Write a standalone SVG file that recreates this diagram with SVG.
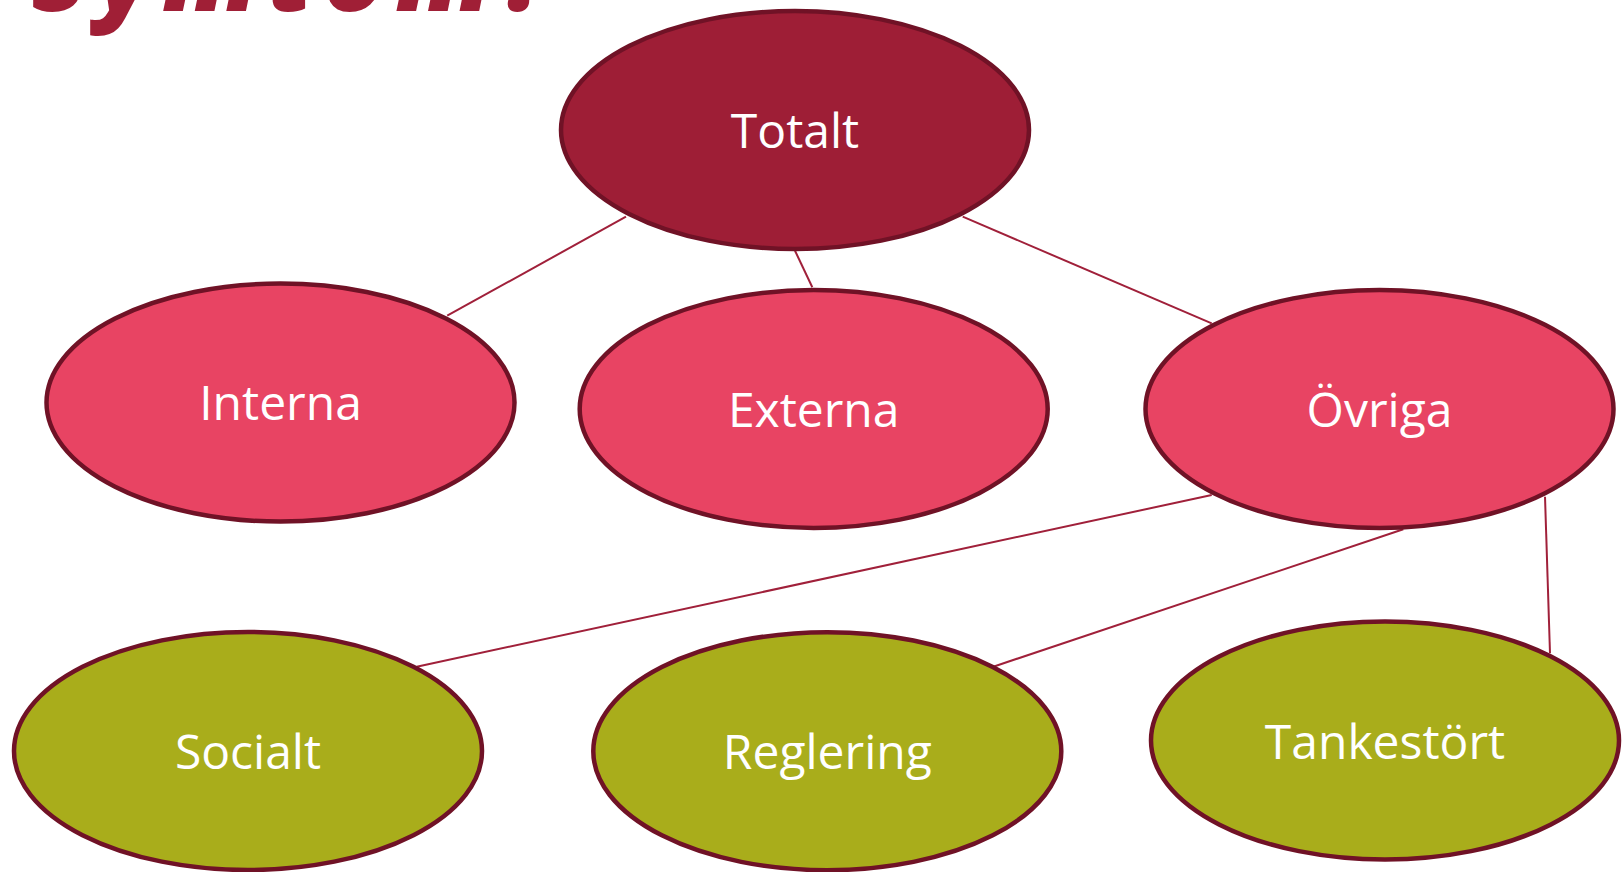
<svg xmlns="http://www.w3.org/2000/svg" width="1623" height="872" viewBox="0 0 1623 872">
<style>
.bg{fill:#ffffff}
.title{font-family:"Open Sans","Liberation Sans",sans-serif;font-weight:800;font-style:italic;font-size:104px;fill:#a01f36}
.node{stroke:#701226;stroke-width:4.5}
.top{fill:#9e1e36}
.mid{fill:#e84463}
.low{fill:#a9ad1b}
.lbl{font-family:"Open Sans","Liberation Sans",sans-serif;font-size:48px;fill:#ffffff;text-anchor:middle}
.edge{stroke:#a0203a;stroke-width:2;fill:none}
</style>
<rect class="bg" x="0" y="0" width="1623" height="872"/>
<text class="title" x="31" y="11" textLength="520" lengthAdjust="spacing">Symtom?</text>
<g id="connectors">
<line class="edge" x1="626" y1="216.7" x2="447.2" y2="315.7"/>
<line class="edge" x1="795" y1="250.7" x2="812.3" y2="287.3"/>
<line class="edge" x1="962.7" y1="216.7" x2="1211.7" y2="323.3"/>
<line class="edge" x1="1211.7" y1="495" x2="416.7" y2="666.7"/>
<line class="edge" x1="1403.3" y1="529.3" x2="993.3" y2="666.7"/>
<line class="edge" x1="1545" y1="496.7" x2="1550" y2="653.3"/>
</g>
<g id="totalt"><ellipse class="node top" cx="795" cy="130" rx="234" ry="119"/><text class="lbl" x="795" y="148">Totalt</text></g>
<g id="interna"><ellipse class="node mid" cx="280.5" cy="402.6" rx="234" ry="119"/><text class="lbl" x="280.5" y="420">Interna</text></g>
<g id="externa"><ellipse class="node mid" cx="813.7" cy="409" rx="234" ry="119"/><text class="lbl" x="813.7" y="426.5">Externa</text></g>
<g id="ovriga"><ellipse class="node mid" cx="1379.5" cy="409" rx="234" ry="119"/><text class="lbl" x="1379.5" y="426.5">Övriga</text></g>
<g id="socialt"><ellipse class="node low" cx="248" cy="751" rx="234" ry="119"/><text class="lbl" x="248" y="769">Socialt</text></g>
<g id="reglering"><ellipse class="node low" cx="827.3" cy="751.2" rx="234" ry="119"/><text class="lbl" x="827.3" y="769">Reglering</text></g>
<g id="tankestort"><ellipse class="node low" cx="1385" cy="740.5" rx="234" ry="119"/><text class="lbl" x="1385" y="758.5">Tankestört</text></g>
</svg>
